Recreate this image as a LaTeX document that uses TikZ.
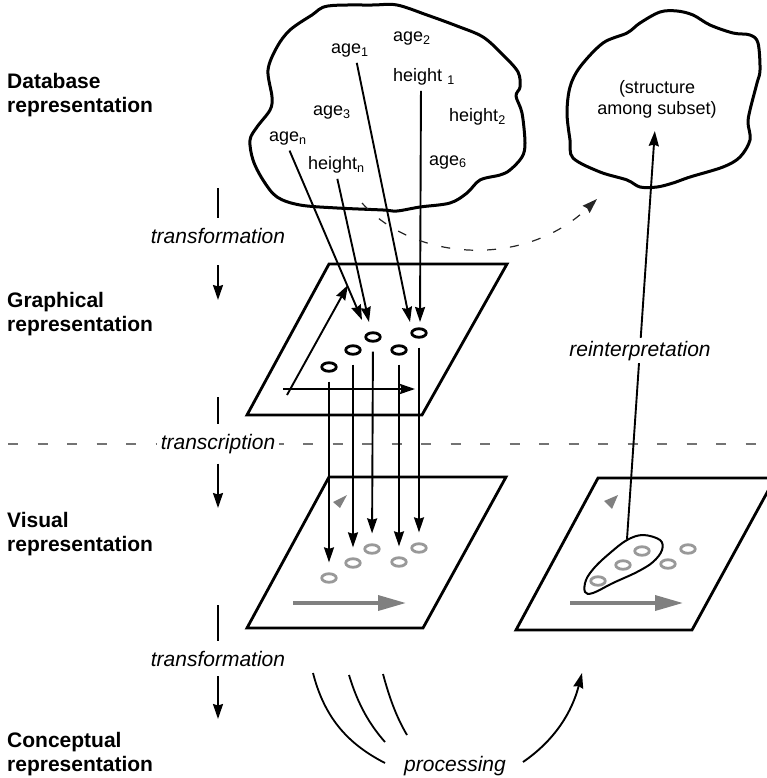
\documentclass[tikz,border=0pt]{standalone}
\usepackage{fontspec}
\setmainfont{Liberation Sans}
\usetikzlibrary{arrows.meta,shapes.geometric}

\tikzset{
    levellabel/.style={anchor=west, inner sep=0pt, align=left, font=\fontsize{21}{24}\selectfont\bfseries},
    steplabel/.style={anchor=base, inner xsep=4pt, inner ysep=10pt, font=\fontsize{21}{24}\selectfont\itshape},
    datalabel/.style={anchor=base west, inner sep=1pt, font=\fontsize{18}{21}\selectfont},
    blackdot/.style={ellipse, draw, line width=2.8pt, minimum width=14.5pt, minimum height=8.5pt, inner sep=0pt},
    greydot/.style={blackdot, draw=black!40},
    plane/.style={line width=2.8pt, line join=miter},
    cloudline/.style={line width=3pt, line join=round},
    link/.style={->, line width=1.9pt},
    greyaxis/.style={-{Triangle[length=28pt,width=15pt]}, line width=3.5pt, black!50},
}

\begin{document}
\begin{tikzpicture}[x=1pt, y=-1pt, >={Stealth[length=15pt,width=10pt,inset=1.5pt]}]
    \clip (0,0) rectangle (767,778);

    % Level names
    \node[levellabel] (dblvl) at (7,95) {Database\\representation};
    \node[levellabel] (grlvl) at (7,314.5) {Graphical\\representation};
    \node[levellabel] (vilvl) at (7,534.5) {Visual\\representation};
    \node[levellabel] (colvl) at (7,754.5) {Conceptual\\representation};

    % Steps between the levels
    \draw[black!55, line width=1.2pt, dash pattern=on 10pt off 19.5pt] (8,444) -- (767,444);
    \node[steplabel] (tf1) at (218,243) {transformation};
    \node[steplabel, fill=white] (tc) at (218,449) {transcription};
    \node[steplabel] (tf2) at (218,666) {transformation};
    \coordinate (tf1a) at (218,188);
    \coordinate (tf1b) at (218,300);
    \coordinate (tca) at (218,397);
    \coordinate (tcb) at (218,508);
    \coordinate (tf2a) at (218,605);
    \coordinate (tf2b) at (218,719);
    \draw[line width=1.9pt] (tf1a) -- (tf1);
    \draw[link, shorten <=12pt] (tf1) -- (tf1b);
    \draw[line width=1.9pt] (tca) -- (tc);
    \draw[link] (tc) -- (tcb);
    \draw[line width=1.9pt] (tf2a) -- (tf2);
    \draw[link] (tf2) -- (tf2b);

    % Database cloud
    \draw[cloudline] plot[smooth cycle, tension=0.55] coordinates {(312,15) (328,6) (373,5) (397,5) (427,15)
        (457,26) (483,37) (503,55) (518,72) (520,87) (516,96) (522,113) (525,143) (522,157) (510,170)
        (500,175) (480,180) (467,193) (450,203) (420,207) (397,211) (383,210) (337,208) (300,205)
        (277,197) (263,180) (253,160) (250,140) (257,127) (270,110) (272,97) (268,70) (277,47) (290,30)};
    \node[datalabel] (age1) at (330,54) {age\textsubscript{1}};
    \node[datalabel] (age2) at (392,42) {age\textsubscript{2}};
    \node[datalabel] (height1) at (392,82) {height \textsubscript{1}};
    \node[datalabel] (age3) at (312,116) {age\textsubscript{3}};
    \node[datalabel] (height2) at (448,122) {height\textsubscript{2}};
    \node[datalabel] (agen) at (268,142) {age\textsubscript{n}};
    \node[datalabel] (heightn) at (307,170) {height\textsubscript{n}};
    \node[datalabel] (age6) at (428,165) {age\textsubscript{6}};

    % Subset cloud
    \draw[cloudline] plot[smooth cycle, tension=0.55] coordinates {(580,67) (603,43) (627,33) (640,23) (660,12)
        (677,11) (693,15) (710,25) (733,33) (750,35) (758,43) (760,70) (757,83) (750,110) (748,123)
        (750,140) (740,157) (723,167) (690,177) (673,183) (657,187) (640,187) (627,180) (600,172)
        (573,158) (570,140) (567,113) (570,87)};
    \node[datalabel, anchor=center, align=center, inner sep=13pt] (subset) at (657,99) {(structure\\among subset)};

    % Graphical plane
    \draw[plane] (329,264) -- (507,264) -- (422,415) -- (247,415) -- cycle;
    \draw[link] (287,395) -- (348,285);
    \draw[link] (283,389) -- (415,389);
    \node[blackdot] (g1) at (329,367) {};
    \node[blackdot] (g2) at (353,350) {};
    \node[blackdot] (g3) at (373,337) {};
    \node[blackdot] (g4) at (399,350) {};
    \node[blackdot] (g5) at (419,333) {};

    % Mapping the data onto the graph
    \coordinate (tn) at (362,320);
    \coordinate (thn) at (369,322);
    \coordinate (t1) at (410,322);
    \coordinate (th1) at (420,322);
    \draw[link, shorten <=4pt] (agen.south) -- (tn);
    \draw[link, shorten <=4pt] (heightn.south) -- (thn);
    \draw[link, shorten <=4pt] ([xshift=6pt]age1.south) -- (t1);
    \draw[link, shorten <=4pt] ([xshift=-3pt]height1.south) -- (th1);

    % Dashed shortcut
    \coordinate (dashs) at (362,203);
    \coordinate (dashe) at (597,199);
    \draw[->, black!85, line width=1.2pt, dash pattern=on 9pt off 14pt] (dashs) .. controls (415,262) and (525,268) .. (dashe);

    % Visual plane
    \draw[plane] (329,477) -- (506,477) -- (423,628) -- (247,628) -- cycle;
    \fill[black!50] (347,495) -- (333,502) -- (340,508) -- cycle;
    \draw[greyaxis] (293,603) -- (406,603);
    \node[greydot] (v1) at (329,578) {};
    \node[greydot] (v2) at (353,563) {};
    \node[greydot] (v3) at (372,549) {};
    \node[greydot] (v4) at (399,562) {};
    \node[greydot] (v5) at (419,548) {};
    \foreach \i in {1,...,5} {
        \draw[link, shorten <=9pt, shorten >=10pt] (g\i) -- (v\i);
    }

    % Visual plane, seen again
    \draw[plane] (598,478) -- (775,478) -- (692,630) -- (516,630) -- cycle;
    \fill[black!50] (618,495) -- (604,501) -- (612,509) -- cycle;
    \draw[greyaxis] (570,603) -- (683,603);
    \node[greydot] (r1) at (598,581) {};
    \node[greydot] (r2) at (623,565) {};
    \node[greydot] (r3) at (642,551) {};
    \node[greydot] (r4) at (668,564) {};
    \node[greydot] (r5) at (688,549) {};
    \draw[line width=2pt] plot[smooth cycle, tension=0.6] coordinates {(627,540) (643,535) (660,540) (662,550)
        (653,562) (637,572) (613,583) (593,593) (585,592) (586,580) (595,567) (610,553)};
    \coordinate (blobtop) at (627,539);
    \draw[link] (blobtop) -- (subset);
    \node[steplabel, fill=white, inner ysep=3pt] (reint) at (640,356) {reinterpretation};

    % Processing
    \draw[line width=1.8pt] (313,673) .. controls (325,720) and (350,745) .. (385,763);
    \draw[line width=1.8pt] (349,675) .. controls (358,705) and (370,725) .. (385,742);
    \draw[line width=1.8pt] (383,674) .. controls (390,700) and (397,718) .. (407,735);
    \node[steplabel, inner sep=2pt] (proc) at (455,771) {processing};
    \coordinate (procs) at (523,762);
    \coordinate (proce) at (582,673);
    \draw[link] (procs) .. controls (555,740) and (572,712) .. (proce);
\end{tikzpicture}
\end{document}
